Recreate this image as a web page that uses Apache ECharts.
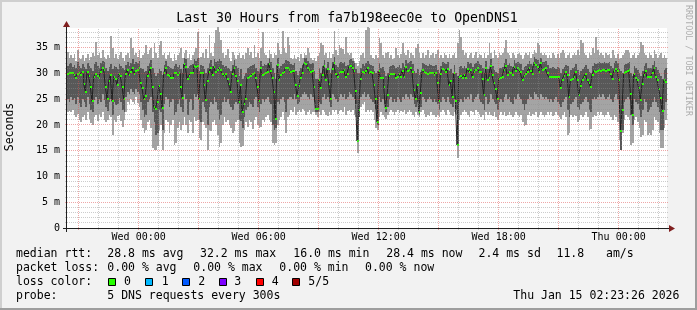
<!DOCTYPE html>
<html><head><meta charset="utf-8">
<script src="https://cdn.jsdelivr.net/npm/echarts@6/dist/echarts.min.js"></script>
<style>html,body{margin:0;padding:0;background:#f2f2f2}#c{width:697px;height:310px}</style>
</head><body><div id="c"></div>
<script>
// ---- data (ms), one value per 5-minute step, 30 hours ----
const T0 = -215;      // first step start, minutes relative to Wed 00:00
const STEP = 5;       // minutes per step
const SPAN = 1800;    // 30 hours
const YMAX = 38.83;

const median = [
29.9,30.1,30.0,30.0,29.8,29.2,29.9,30.0,29.7,30.3,
28.0,26.5,30.3,29.5,27.4,24.6,29.4,29.9,29.6,29.2,
30.3,31.1,30.7,27.4,25.0,28.5,29.7,24.6,29.4,29.0,
27.8,29.9,29.5,27.4,25.0,29.9,30.7,29.7,30.2,31.0,
29.9,30.5,30.7,31.0,28.1,27.2,25.0,25.7,29.6,30.3,
31.1,27.4,23.5,23.1,24.5,27.6,26.0,23.3,30.0,31.1,
29.8,29.6,29.2,29.2,30.0,30.0,29.8,30.0,27.4,25.3,
31.8,31.3,28.9,29.6,30.0,30.0,31.5,31.2,31.5,25.0,
30.0,30.0,27.8,24.8,28.5,30.3,31.0,29.7,31.3,30.3,
30.6,31.1,30.7,29.9,29.5,29.9,29.0,27.9,26.5,29.9,
31.1,29.6,28.6,24.4,27.8,22.6,24.0,25.0,29.2,29.4,
29.6,29.9,30.0,29.2,27.3,24.7,31.0,29.7,29.9,30.0,
30.3,31.9,30.5,29.2,26.5,21.2,31.6,28.8,29.7,30.0,
30.3,31.1,31.0,30.7,30.2,30.4,30.5,27.8,25.7,27.5,
29.2,30.0,32.0,31.8,31.1,30.6,30.3,30.5,27.4,23.1,
23.1,28.7,27.2,29.8,31.5,28.8,30.8,28.0,25.0,30.8,
32.0,29.9,29.4,30.0,30.3,30.3,30.7,29.4,29.9,31.3,
31.5,31.0,30.5,26.6,16.9,23.0,28.9,30.3,30.0,30.5,
31.0,30.0,30.2,30.0,27.8,25.0,20.6,30.5,29.2,29.2,
27.4,23.3,25.8,29.6,29.9,29.9,29.9,29.2,29.4,29.9,
29.4,30.5,29.4,31.3,30.5,30.7,31.1,30.3,26.7,25.0,
27.8,22.6,26.3,30.7,30.3,30.0,29.9,30.1,30.0,30.0,
29.8,30.0,28.1,24.7,29.9,30.9,30.7,30.2,30.9,27.8,
28.6,25.5,30.0,24.7,16.1,29.4,29.6,29.1,29.7,29.2,
30.9,30.3,30.7,29.4,30.3,30.7,31.0,30.3,30.3,29.0,
25.8,31.1,28.8,29.2,31.5,29.7,28.1,27.0,25.0,29.0,
29.2,29.4,30.7,31.5,29.8,30.3,30.0,29.7,31.3,30.5,
31.0,30.6,30.2,28.7,29.5,29.9,30.3,31.0,30.4,29.9,
32.1,31.6,31.3,30.3,32.0,30.7,30.9,31.0,30.0,29.3,
29.3,29.3,29.3,29.3,29.3,29.3,27.1,28.8,29.5,30.2,
29.7,25.5,28.7,29.0,29.4,30.3,28.7,25.8,27.5,28.7,
29.4,29.9,28.7,28.2,27.4,29.7,30.5,30.3,30.5,30.7,
30.5,30.6,30.7,30.5,30.6,30.7,29.9,29.0,30.5,30.8,
30.5,28.7,18.9,22.9,30.0,30.2,30.5,30.7,26.1,22.0,
29.9,29.2,28.7,27.1,24.8,28.0,29.7,30.5,29.3,29.3,
29.3,30.0,31.0,29.4,28.7,27.0,25.2,22.8,28.7,28.4];

const pmax = [
34.2,33.0,33.5,33.0,33.8,32.5,34.6,33.0,32.8,33.5,
32.5,33.0,33.8,32.6,33.2,34.0,33.3,36.2,33.5,34.0,
33.0,34.5,33.2,32.8,33.5,33.0,37.2,35.0,33.0,33.8,
32.8,33.6,34.2,33.0,32.5,33.5,34.0,33.0,36.8,35.0,
33.6,34.0,33.2,34.6,33.0,33.5,34.0,35.5,33.8,34.6,
35.0,33.0,36.0,34.0,33.0,35.5,36.3,33.5,34.0,32.8,
33.5,34.2,33.0,32.5,33.8,32.6,33.5,34.0,35.0,33.0,
34.0,34.5,33.0,33.8,32.7,33.5,34.2,35.0,38.0,33.0,
33.2,34.0,33.0,34.8,33.0,37.5,34.0,33.4,36.0,38.5,
39.0,38.0,36.5,34.0,33.0,33.5,34.8,33.0,32.5,34.2,
33.6,32.8,33.5,34.0,33.0,33.5,32.8,34.0,35.0,33.5,
34.2,33.0,35.5,33.2,34.0,33.0,35.0,38.0,34.0,33.5,
33.0,34.5,33.8,33.0,34.0,33.5,36.0,34.5,33.8,38.2,
35.0,34.0,37.0,35.5,33.0,32.9,33.5,32.8,33.2,32.5,
33.8,33.0,34.0,33.5,35.0,34.0,33.0,32.6,33.0,32.5,
33.3,34.0,36.0,35.5,33.5,34.0,33.0,34.2,33.0,33.8,
38.2,34.5,33.5,35.5,35.0,34.8,33.8,37.0,34.0,33.5,
34.0,33.0,32.5,32.0,31.5,32.5,33.5,34.0,33.0,38.5,
39.0,38.8,33.5,33.0,32.8,33.5,33.0,36.8,36.0,33.5,
33.0,34.0,34.2,33.0,33.5,32.8,33.0,35.0,33.5,33.0,
33.8,36.0,34.0,33.5,34.5,33.0,34.0,33.5,33.0,35.0,
35.8,34.0,33.0,34.0,33.0,33.5,34.5,33.0,33.5,34.0,
33.0,33.8,34.5,33.0,33.5,33.0,34.0,33.5,33.0,33.8,
33.0,33.5,34.0,33.0,36.0,38.4,37.0,34.5,33.5,34.0,
33.0,33.5,34.0,33.0,33.5,34.2,33.0,33.8,33.5,33.0,
34.0,33.0,33.5,35.9,34.0,33.0,34.5,33.5,33.0,34.0,
33.5,34.0,35.0,36.5,34.0,33.5,33.0,34.0,33.5,33.0,
33.8,34.0,33.5,32.8,33.5,34.0,33.5,34.2,33.0,33.8,
34.5,34.0,35.9,35.5,34.0,33.5,34.0,33.5,33.0,33.5,
33.0,34.0,33.5,33.0,33.8,33.0,34.0,34.6,34.0,33.0,
33.5,34.0,33.0,33.5,34.0,33.5,34.5,33.5,36.5,36.0,
34.0,33.5,33.0,34.0,33.5,35.0,34.0,37.1,34.5,33.5,
34.0,33.5,33.0,34.0,33.5,33.8,33.0,34.5,33.5,33.0,
33.8,32.8,33.0,33.5,34.0,34.6,34.6,34.0,33.0,33.5,
34.0,33.0,33.5,34.0,36.2,35.5,34.0,33.5,33.0,34.0,
33.5,33.0,34.5,33.8,33.0,33.5,34.0,33.0,33.5,33.0];

const pmin = [
22.6,22.8,22.5,23.0,22.0,21.6,22.2,21.0,20.5,21.5,
22.0,21.0,22.5,21.2,20.3,20.0,21.5,22.0,20.8,22.2,
21.5,22.5,21.0,20.6,21.0,22.0,21.5,18.0,21.0,20.5,
21.8,22.0,20.8,19.7,21.0,22.5,24.5,24.0,25.0,24.5,
24.0,25.5,24.2,23.5,21.0,19.5,18.4,19.0,20.5,21.0,
19.5,15.5,15.2,15.1,16.0,19.0,20.0,15.1,18.5,21.0,
20.5,18.4,20.0,21.0,16.1,16.5,19.5,20.5,19.0,20.0,
21.5,20.0,18.5,21.0,20.5,18.4,21.5,20.8,21.0,17.5,
17.1,20.5,20.0,19.5,15.1,19.0,18.8,20.5,21.0,20.0,
18.0,15.8,16.5,20.0,21.5,20.5,21.0,20.0,19.5,18.4,
18.8,20.5,21.0,16.5,15.8,16.0,19.0,20.5,19.7,21.0,
20.5,19.2,21.0,21.5,20.0,19.5,19.7,21.0,20.5,21.5,
22.0,21.0,20.5,16.5,16.1,16.5,20.0,21.0,21.5,22.5,
21.0,18.4,21.5,22.0,23.0,22.5,23.5,22.0,22.6,23.0,
22.5,23.2,22.8,22.0,22.5,23.0,22.2,22.5,22.6,22.0,
21.5,22.5,22.0,23.0,22.5,22.0,21.8,22.5,22.0,23.0,
22.5,23.0,22.2,22.8,23.0,22.5,23.5,22.0,22.8,23.0,
22.5,23.0,22.0,21.5,14.6,22.0,23.5,24.0,24.5,22.5,
23.0,22.6,23.0,22.5,21.0,19.5,19.0,21.5,22.5,22.0,
21.5,21.2,22.0,22.5,23.0,22.6,22.0,22.5,23.0,22.3,
22.8,22.5,23.0,22.2,22.6,23.0,22.5,22.0,21.5,22.6,
22.0,21.5,22.5,23.0,22.2,21.5,22.0,21.8,22.5,21.9,
22.0,21.5,22.0,21.5,22.5,23.0,22.6,22.0,23.0,22.5,
22.0,21.8,22.5,22.0,13.6,21.0,22.0,22.6,23.0,22.5,
22.0,21.5,22.8,22.5,22.0,23.0,22.5,22.2,21.5,22.0,
21.0,22.5,22.0,22.6,22.0,21.8,22.5,21.5,21.0,22.0,
22.6,22.0,22.5,21.8,22.0,22.6,22.0,21.5,22.0,22.5,
22.0,21.5,22.0,20.5,19.8,20.0,22.0,22.5,21.8,22.2,
22.0,22.5,21.5,22.0,22.6,22.0,21.5,22.0,22.5,22.0,
22.6,21.8,22.0,22.5,22.0,21.5,21.2,22.0,22.5,21.5,
18.1,18.5,22.0,21.5,22.0,21.8,20.6,21.0,22.0,21.5,
22.0,22.5,21.5,19.0,19.2,21.5,22.0,21.8,22.5,22.0,
22.6,22.0,21.5,22.0,22.5,22.0,21.5,21.0,22.0,21.5,
20.5,17.0,15.1,18.5,21.0,22.0,21.5,21.0,16.1,16.5,
21.0,21.5,20.5,19.5,17.7,18.0,21.0,20.5,18.1,18.5,
18.1,19.0,21.5,21.0,20.5,18.5,15.5,15.5,19.5,21.0];

const p4 = [
31.5,31.8,32.0,31.2,31.6,31.0,32.2,31.5,31.0,31.8,
31.2,30.8,32.0,31.5,31.0,30.5,31.8,32.2,31.5,31.0,
32.0,32.5,32.2,31.0,30.5,31.2,31.8,30.8,31.5,31.2,
30.8,31.8,31.5,31.0,30.6,31.6,32.2,31.5,32.0,32.8,
31.8,32.2,32.0,32.5,31.0,30.8,30.2,30.5,31.5,32.0,
32.6,31.0,30.0,29.5,30.0,30.8,30.5,29.8,31.6,32.5,
31.5,31.2,31.0,30.8,31.5,31.8,31.2,31.6,30.8,30.0,
33.0,32.8,31.0,31.5,31.6,31.8,32.8,32.5,33.0,30.5,
31.6,31.5,30.8,30.0,31.0,32.0,32.6,31.5,32.8,32.2,
32.5,32.8,32.5,31.6,31.2,31.5,31.0,30.8,30.5,31.6,
32.6,31.5,31.0,29.5,30.8,29.0,29.5,30.0,31.0,31.2,
31.5,31.6,31.8,31.0,30.5,30.0,32.5,31.5,31.8,31.6,
32.0,33.0,32.2,31.0,30.0,29.0,33.0,31.0,31.5,31.8,
32.0,32.6,32.5,32.2,31.8,31.6,32.0,30.5,29.8,30.5,
31.0,31.6,33.0,33.0,32.5,32.0,31.8,32.0,30.5,29.0,
29.0,31.0,30.0,31.5,32.6,31.0,32.2,30.6,30.0,32.2,
33.2,31.6,31.2,32.0,32.2,32.0,32.2,31.5,31.6,32.6,
32.8,32.5,32.0,30.8,30.0,30.0,31.0,31.8,31.5,32.0,
32.5,31.8,31.6,31.5,30.5,30.0,30.5,32.0,31.0,31.2,
30.5,29.5,30.0,31.2,31.5,31.6,31.5,31.0,31.2,31.6,
31.0,32.0,31.2,32.6,32.0,32.2,32.5,31.8,30.5,30.0,
30.8,29.8,30.2,32.0,31.8,31.6,31.5,31.8,31.6,31.5,
31.4,31.6,30.6,30.0,31.5,32.2,32.0,31.8,32.2,30.5,
30.8,30.0,31.6,30.0,29.5,31.2,31.5,31.0,31.5,31.0,
32.2,31.8,32.0,31.2,31.8,32.0,32.5,31.8,31.6,31.0,
30.0,32.5,30.8,31.0,32.8,31.5,30.6,30.2,30.0,31.0,
31.0,31.2,32.0,32.8,31.6,32.0,31.5,31.2,32.6,32.0,
32.3,32.0,31.8,30.6,31.2,31.5,31.8,32.4,31.9,31.5,
33.2,32.8,32.6,31.8,33.0,32.2,32.3,32.5,31.6,31.0,
31.0,31.2,31.0,30.8,31.2,31.0,30.0,30.8,31.2,31.6,
31.4,29.5,30.6,31.0,31.2,31.8,30.6,29.8,30.5,30.8,
31.2,31.6,30.8,30.2,30.0,31.4,32.0,31.8,32.0,32.2,
32.0,32.1,32.2,32.0,32.1,32.2,31.5,31.0,32.0,32.4,
32.0,30.8,30.5,30.0,31.6,31.8,32.0,32.2,30.0,29.5,
31.5,31.0,30.6,30.0,29.5,30.5,31.4,32.0,31.0,31.0,
31.0,31.6,32.5,31.2,30.6,30.0,29.5,29.0,30.6,31.0];

const p2 = [
25.0,24.5,25.5,24.8,25.2,24.0,25.5,24.2,23.5,25.0,
24.5,23.5,25.5,24.0,23.0,22.5,24.8,25.5,24.0,25.0,
24.5,26.0,24.8,23.5,22.8,24.5,25.0,22.0,24.5,23.8,
24.0,25.2,24.5,23.0,22.5,25.5,26.5,26.0,27.0,26.5,
26.0,27.0,26.5,26.0,24.5,23.0,21.5,22.0,24.5,25.0,
25.5,22.5,20.5,18.1,18.5,23.0,22.5,19.0,24.0,25.5,
25.0,23.5,24.5,25.0,22.0,22.5,24.0,25.0,23.5,22.5,
26.0,25.0,22.0,24.5,25.0,23.0,26.0,25.5,26.0,21.0,
20.5,24.5,23.5,22.5,20.0,23.5,24.5,24.0,25.5,24.5,
23.0,21.0,22.0,24.5,25.5,24.5,25.0,24.0,23.5,23.0,
24.0,24.5,24.0,21.0,20.8,19.5,21.5,23.0,23.5,24.5,
24.0,23.5,25.0,25.5,23.5,22.5,24.0,25.0,24.5,25.0,
25.5,24.5,24.0,20.0,19.0,19.5,24.5,24.0,25.0,25.5,
24.5,22.5,25.0,25.5,25.5,25.0,26.0,25.0,24.0,24.5,
25.5,26.0,26.5,26.0,25.5,25.0,26.0,25.5,24.5,22.5,
22.5,24.5,24.0,25.5,26.0,25.0,25.5,24.5,23.5,26.0,
25.5,25.0,24.5,25.5,26.0,25.5,26.0,25.0,25.5,26.5,
26.0,25.5,25.0,24.0,16.8,21.5,25.5,26.0,26.5,25.5,
26.0,25.5,25.0,24.5,24.0,23.0,20.0,25.5,24.5,25.0,
24.0,22.5,23.5,25.0,25.5,24.5,25.0,24.5,25.5,25.0,
24.5,25.5,25.0,26.0,25.5,25.0,26.0,25.5,24.0,23.5,
24.5,22.0,23.5,25.5,25.0,24.5,25.0,25.5,25.0,24.5,
25.0,24.5,24.0,23.0,24.5,25.5,25.0,24.5,25.5,24.5,
24.0,23.5,25.0,23.0,16.0,24.5,25.0,24.5,25.5,25.0,
25.5,25.0,26.0,24.5,25.0,25.5,26.0,25.0,24.5,24.0,
23.0,25.5,24.0,24.5,26.0,25.0,24.5,24.0,23.0,24.5,
25.0,24.5,25.5,26.0,25.0,25.5,24.5,24.0,25.5,25.0,
26.0,25.5,25.0,24.0,23.0,24.0,25.0,26.0,25.5,25.0,
26.5,26.0,25.5,25.0,26.0,25.5,25.0,25.5,25.0,24.5,
25.0,24.5,25.0,25.5,24.5,24.0,23.5,24.5,25.0,25.5,
23.0,21.5,24.0,24.5,25.0,25.5,23.5,23.0,24.0,24.5,
25.0,25.5,24.5,23.0,22.5,25.0,25.5,25.0,25.5,26.0,
25.5,26.0,25.5,25.0,25.5,26.0,25.0,24.5,25.5,26.0,
25.0,22.5,15.1,19.0,24.5,25.0,25.5,25.0,22.0,20.0,
25.0,24.5,24.0,23.0,21.5,23.0,25.0,24.5,22.5,23.0,
23.5,24.5,25.5,24.5,23.5,22.5,19.0,19.0,23.0,24.5];

const xTickValues = [0, 360, 720, 1080, 1440];
const xTickLabels = ['Wed 00:00', 'Wed 06:00', 'Wed 12:00', 'Wed 18:00', 'Thu 00:00'];
const yTickValues = [0, 5, 10, 15, 20, 25, 30, 35];
const yTickLabels = ['0', '5 m', '10 m', '15 m', '20 m', '25 m', '30 m', '35 m'];

const lossLabels = ['0', '1', '2', '3', '4', '5/5'];
const lossColors = ['#26ff00', '#00b8ff', '#0059ff', '#7e00ff', '#ff0000', '#a10000'];

// ---- build ----
const FONT = '"DejaVu Sans Mono", monospace';
const times = median.map((_, i) => T0 + i * STEP);
const closeT = T0 + median.length * STEP;
const sw = YMAX / 200;

function bandSeries(loArr, hiArr, color, z) {
  return {
    type: 'custom', silent: true, z: z,
    data: times.map((t, i) => [t, loArr[i], hiArr[i]]),
    encode: {x: 0, y: [1, 2]},
    renderItem: function (params, api) {
      const t = api.value(0), lo = api.value(1), hi = api.value(2);
      const a = api.coord([t, hi]), b = api.coord([t + STEP, lo]);
      const x0 = Math.round(a[0]), x1 = Math.round(b[0]);
      const y0 = Math.round(a[1]), y1 = Math.round(b[1]);
      return {type: 'rect', shape: {x: x0, y: y0, width: x1 - x0, height: Math.max(0, y1 - y0)},
        style: {fill: color}};
    }
  };
}
const medianLine = times.map((t, i) => [t, median[i]]);
medianLine.push([closeT, median[median.length - 1]]);

const gridItems = [];
for (let m = -180; m < T0 + SPAN; m += 60) gridItems.push([0, m, m % 180 === 0 ? 1 : 0]);
for (let v = 1; v < YMAX; v += 1) gridItems.push([1, v, v % 5 === 0 ? 1 : 0]);

const G = [];
// frame
G.push({type: 'rect', shape: {x: 0, y: 0, width: 697, height: 2}, style: {fill: '#cfcfcf'}, z: 50});
G.push({type: 'rect', shape: {x: 0, y: 0, width: 2, height: 310}, style: {fill: '#cfcfcf'}, z: 50});
G.push({type: 'rect', shape: {x: 0, y: 308, width: 697, height: 2}, style: {fill: '#9e9e9e'}, z: 51});
G.push({type: 'rect', shape: {x: 695, y: 0, width: 2, height: 310}, style: {fill: '#9e9e9e'}, z: 51});
// axes and arrows
G.push({type: 'line', shape: {x1: 63, y1: 228.5, x2: 671, y2: 228.5}, style: {stroke: '#1f1f1f', lineWidth: 1}, z: 40});
G.push({type: 'line', shape: {x1: 66.5, y1: 232, x2: 66.5, y2: 24}, style: {stroke: '#1f1f1f', lineWidth: 1}, z: 40});
G.push({type: 'polygon', shape: {points: [[669, 225], [669, 232], [675, 228.5]]}, style: {fill: '#801f1f'}, z: 41});
G.push({type: 'polygon', shape: {points: [[63, 27], [70, 27], [66.5, 21]]}, style: {fill: '#801f1f'}, z: 41});
function txt(x, y, s, size, extra) {
  return Object.assign({type: 'text', x: x, y: y, z: 60,
    style: {text: s, x: 0, y: 0, font: size + 'px ' + FONT, fill: '#000',
      align: 'left', textAlign: 'left', verticalAlign: 'middle', textVerticalAlign: 'middle'}}, extra || {});
}
// title
const t = txt(347, 19, 'Last 30 Hours from fa7b198eec0e to OpenDNS1', 13.2);
t.style.align = 'center'; t.style.textAlign = 'center';
G.push(t);
// y-axis title
const yt = txt(10, 127, 'Seconds', 11.5, {rotation: Math.PI / 2});
yt.style.align = 'center'; yt.style.textAlign = 'center';
G.push(yt);
// watermark
const wm = txt(688, 5, 'RRDTOOL / TOBI OETIKER', 8.4, {rotation: -Math.PI / 2});
wm.style.fill = 'rgba(0,0,0,0.3)';
G.push(wm);
// legend
const rows = [
  [254.3, [[16, 'median rtt:'], [107.3, '28.8 ms avg'], [200, '32.2 ms max'], [293.3, '16.0 ms min'],
           [386.3, '28.4 ms now'], [478.5, '2.4 ms sd'], [556.5, '11.8'], [606, 'am/s']]],
  [268.3, [[16, 'packet loss:'], [107.3, '0.00 % avg'], [193.3, '0.00 % max'], [279.3, '0.00 % min'], [365, '0.00 % now']]],
  [282.3, [[16, 'loss color:']]],
  [296.3, [[16, 'probe:'], [107.3, '5 DNS requests every 300s'], [513.3, 'Thu Jan 15 02:23:26 2026']]]
];
rows.forEach(([y, items]) => items.forEach(([x, s]) => G.push(txt(x, y, s, 11.5))));
const swX = [108.5, 145.5, 182.5, 219.5, 256.5, 292.5];
const swLabelX = [124, 161.7, 198.3, 234.3, 271.7, 308.3];
lossLabels.forEach((l, i) => {
  G.push({type: 'rect', shape: {x: swX[i], y: 278.5, width: 7, height: 7},
    style: {fill: lossColors[i], stroke: '#000', lineWidth: 1}, z: 60});
  G.push(txt(swLabelX[i], 282.3, l, 11.5));
});

const chart = echarts.init(document.getElementById('c'), null, {renderer: 'canvas'});
chart.setOption({
  animation: false,
  backgroundColor: '#f2f2f2',
  grid: {left: 67, top: 28, width: 600, height: 200, show: true, backgroundColor: '#ffffff', borderWidth: 0},
  xAxis: {
    type: 'value', min: T0, max: T0 + SPAN,
    axisLine: {show: false}, axisTick: {show: false}, splitLine: {show: false},
    axisLabel: {customValues: xTickValues, margin: 3, lineHeight: 12,
      fontFamily: FONT, fontSize: 10, color: '#000',
      formatter: v => { const k = xTickValues.indexOf(v); return k >= 0 ? xTickLabels[k] : ''; }}
  },
  yAxis: {
    type: 'value', min: 0, max: YMAX,
    axisLine: {show: false}, axisTick: {show: false}, splitLine: {show: false},
    axisLabel: {customValues: yTickValues, margin: 7, fontFamily: FONT, fontSize: 10, color: '#000',
      formatter: v => { const k = yTickValues.indexOf(v); return k >= 0 ? yTickLabels[k] : ''; }}
  },
  series: [
    bandSeries(pmin, pmax, '#a4a4a4', 2),
    bandSeries(p2, p4, '#585858', 3),
    {type: 'line', step: 'end', symbol: 'none', showSymbol: false, silent: true, z: 4,
      data: medianLine, lineStyle: {width: 1, color: '#202020'}},
    bandSeries(median.map(v => +(v - sw).toFixed(3)), median.map(v => +(v + sw).toFixed(3)), '#26ff00', 5),
    {
      type: 'custom', silent: true, z: 6, data: gridItems,
      renderItem: function (params, api) {
        const o = api.value(0), v = api.value(1), major = api.value(2);
        const style = {stroke: major ? 'rgba(222,79,79,0.5)' : 'rgba(143,143,143,0.45)', lineWidth: 1, lineDash: [1, 1]};
        if (o === 0) {
          const x = Math.floor(api.coord([v, 0])[0]) + 0.5;
          const yb = api.coord([T0, 0])[1], yt2 = api.coord([T0, YMAX])[1];
          return {type: 'line', shape: {x1: x, y1: yb + 2, x2: x, y2: yt2}, style: style};
        } else {
          const y = Math.floor(api.coord([T0, v])[1]) + 0.5;
          const xl = api.coord([T0, 0])[0], xr = api.coord([T0 + SPAN, 0])[0];
          return {type: 'line', shape: {x1: xl - 2, y1: y, x2: xr + 2, y2: y}, style: style};
        }
      }
    }
  ],
  graphic: {elements: G}
});
</script>
</body></html>
